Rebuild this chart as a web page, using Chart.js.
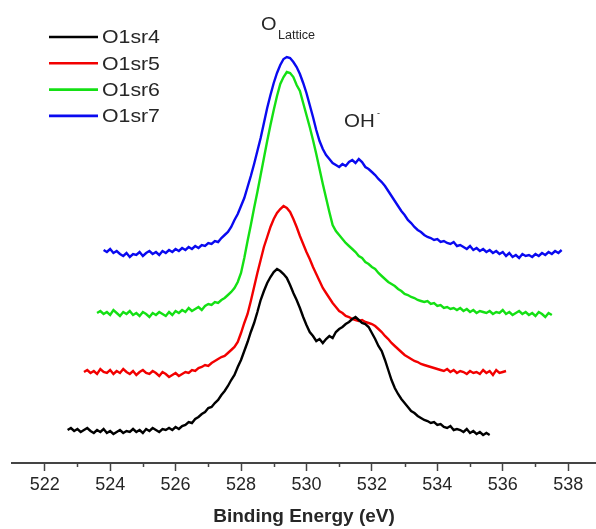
<!DOCTYPE html>
<html>
<head>
<meta charset="utf-8">
<title>O1s XPS spectra</title>
<script src="https://cdn.jsdelivr.net/npm/chart.js@4.4.1/dist/chart.umd.min.js"></script>
<style>
  html, body { margin: 0; padding: 0; background: #ffffff; }
  #wrap { width: 596px; height: 529px; }
</style>
</head>
<body>
<div id="wrap"><canvas id="xps" width="596" height="529"></canvas></div>
<script>
// Acquisition grid: each scan starts at its own energy, 0.1 eV step
const STEP_EV = 0.1;
const seriesNames = ['O1sr4', 'O1sr5', 'O1sr6', 'O1sr7'];
const startEV = [522.7, 523.2, 523.6, 523.8];
const xTicks = [522, 524, 526, 528, 530, 532, 534, 536, 538];
const xMinorTicks = [523, 525, 527, 529, 531, 533, 535, 537];

// Intensities (a.u., stacked with offsets)
const o1sr4 = [
  33,35,32,34,31,33,35,32,30,33,
  31,34,30,32,29,31,33,30,32,31,
  34,31,33,30,34,32,35,33,31,34,
  33,35,33,36,34,37,38,41,40,44,
  46,49,51,55,56,60,63,68,72,77,
  83,88,96,103,112,121,131,140,151,163,
  172,180,186,191,194,192,189,185,178,170,
  163,155,146,138,131,127,122,124,120,124,
  127,125,131,134,136,139,141,144,146,143,
  140,139,136,130,124,117,112,103,93,83,
  75,69,64,60,56,52,50,47,45,43,
  42,40,41,38,39,36,35,37,33,34,
  33,31,34,30,32,29,31,28,30,28
];
const o1sr5 = [
  91,93,90,92,89,94,91,90,93,89,
  92,90,94,91,89,92,88,91,93,90,
  89,92,90,87,91,89,86,88,90,87,
  89,91,90,93,92,95,96,98,97,100,
  102,104,106,107,110,113,116,121,130,140,
  149,162,176,190,203,216,226,236,244,250,
  254,257,255,251,244,236,227,219,211,204,
  196,189,182,175,170,165,160,156,152,150,
  147,146,144,143,142,143,141,140,139,137,
  134,131,127,124,120,117,114,111,108,106,
  104,102,101,99,98,97,96,95,94,93,
  92,94,91,93,90,92,91,89,92,90,
  91,89,93,90,92,88,93,90,91,92
];
const o1sr6 = [
  150,152,149,151,148,153,150,147,151,149,
  152,148,150,147,151,149,146,150,148,151,
  149,147,151,148,152,150,153,151,155,152,
  154,156,153,157,159,158,161,160,163,165,
  168,171,175,181,190,205,222,238,255,271,
  288,305,322,338,353,367,379,386,391,390,
  386,378,372,360,348,336,323,309,294,279,
  265,251,238,232,228,224,220,217,214,211,
  207,205,201,199,196,194,190,187,184,181,
  179,177,174,172,169,168,166,165,163,162,
  161,162,159,160,157,158,155,156,154,155,
  153,155,152,154,151,153,150,152,151,150,
  152,149,151,150,153,149,151,148,150,152,
  149,151,148,150,147,151,149,146,150,148
];
const o1sr7 = [
  213,211,214,210,212,209,207,210,206,209,
  208,211,207,210,212,209,211,208,212,210,
  213,211,214,212,215,213,216,214,217,215,
  218,217,220,219,222,221,225,228,231,236,
  243,249,257,265,276,287,299,312,325,340,
  355,368,380,390,398,404,406,405,401,396,
  389,380,370,358,346,333,322,314,308,304,
  300,298,296,299,297,301,303,300,304,301,
  296,294,291,288,284,281,277,272,267,262,
  257,252,248,243,240,236,233,231,228,226,
  225,223,224,221,222,220,219,221,217,218,
  216,214,217,213,215,212,214,211,213,210,
  212,209,211,207,210,206,208,205,209,207,
  208,206,209,207,210,208,211,209,212,210,
  213
];

const seriesValues = [o1sr4, o1sr5, o1sr6, o1sr7];
const seriesColors = ['#000000', '#f20000', '#14e014', '#0a0af0'];

function toPoints(values, start) {
  return values.map((v, i) => ({ x: Math.round((start + i * STEP_EV) * 100) / 100, y: v }));
}

const FONT = "'Liberation Sans', Arial, Helvetica, sans-serif";
const TEXT = '#262626';

// Text drawn slightly widened, anchored at its left edge
function wideText(ctx, str, x, y, font, sx) {
  ctx.save();
  ctx.font = font;
  ctx.translate(x, y);
  ctx.scale(sx, 1);
  ctx.fillText(str, 0, 0);
  ctx.restore();
}

// Legend drawn inside the plot, top-left
const insideLegend = {
  id: 'insideLegend',
  afterDatasetsDraw(chart) {
    const ctx = chart.ctx;
    ctx.save();
    chart.data.datasets.forEach((ds, i) => {
      const y = 37 + i * 26.3;
      ctx.strokeStyle = ds.borderColor;
      ctx.lineWidth = 2.6;
      ctx.beginPath();
      ctx.moveTo(49, y);
      ctx.lineTo(98, y);
      ctx.stroke();
      ctx.fillStyle = TEXT;
      ctx.textBaseline = 'middle';
      ctx.textAlign = 'left';
      wideText(ctx, ds.label, 102, y + 1, '19px ' + FONT, 1.12);
    });
    ctx.restore();
  }
};

// Peak labels
const peakLabels = {
  id: 'peakLabels',
  afterDatasetsDraw(chart) {
    const ctx = chart.ctx;
    ctx.save();
    ctx.fillStyle = TEXT;
    ctx.textAlign = 'left';
    ctx.textBaseline = 'alphabetic';
    wideText(ctx, 'O', 261, 30, '19px ' + FONT, 1.05);
    wideText(ctx, 'Lattice', 278, 39, '12px ' + FONT, 1.05);
    wideText(ctx, 'OH', 344, 127, '19px ' + FONT, 1.08);
    wideText(ctx, '-', 377, 116, '9px ' + FONT, 1);
    ctx.restore();
  }
};

// Short minor ticks at odd energies
const minorTicks = {
  id: 'minorTicks',
  afterDraw(chart) {
    const sx = chart.scales.x;
    const ctx = chart.ctx;
    ctx.save();
    ctx.strokeStyle = '#444444';
    ctx.lineWidth = 1.5;
    xMinorTicks.forEach(v => {
      const px = Math.round(sx.getPixelForValue(v)) + 0.5;
      ctx.beginPath();
      ctx.moveTo(px, sx.top);
      ctx.lineTo(px, sx.top + 4);
      ctx.stroke();
    });
    ctx.restore();
  }
};

new Chart(document.getElementById('xps'), {
  type: 'line',
  data: {
    datasets: seriesNames.map((name, i) => ({
      label: name,
      data: toPoints(seriesValues[i], startEV[i]),
      borderColor: seriesColors[i],
      borderWidth: 2.4,
      pointRadius: 0,
      tension: 0,
      fill: false
    }))
  },
  options: {
    responsive: false,
    animation: false,
    layout: { padding: { left: 12, right: 0, top: 0, bottom: 0 } },
    plugins: {
      legend: { display: false },
      tooltip: { enabled: false }
    },
    scales: {
      x: {
        type: 'linear',
        min: 521,
        max: 538.85,
        afterBuildTicks(scale) {
          scale.ticks = xTicks.map(v => ({ value: v }));
        },
        border: { display: true, color: '#444444', width: 2 },
        grid: {
          drawOnChartArea: false,
          drawTicks: true,
          tickLength: 8,
          tickColor: '#444444',
          tickWidth: 1.5
        },
        ticks: {
          padding: 3,
          color: TEXT,
          font: { family: FONT, size: 18 },
          maxRotation: 0,
          autoSkip: false
        },
        title: {
          display: true,
          text: 'Binding Energy (eV)',
          color: TEXT,
          font: { family: FONT, size: 19, weight: 'bold' },
          padding: { top: 7, bottom: 0.6 }
        }
      },
      y: {
        display: false,
        min: 0,
        max: 463
      }
    }
  },
  plugins: [insideLegend, peakLabels, minorTicks]
});
</script>
</body>
</html>
